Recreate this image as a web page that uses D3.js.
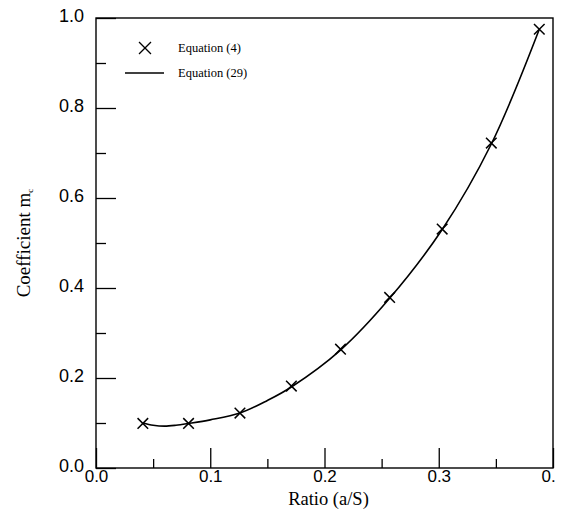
<!DOCTYPE html>
<html>
<head>
<meta charset="utf-8">
<script src="https://cdn.jsdelivr.net/npm/d3@7"></script>
<style>
  html, body { margin: 0; padding: 0; background: #fff; }
  svg { display: block; }
</style>
</head>
<body>
<svg id="chart"></svg>
<script>
// Equation (4) points
const ratioPts = [0.041, 0.081, 0.126, 0.171, 0.214, 0.257, 0.303, 0.346, 0.388];
const eq4Vals  = [0.099, 0.099, 0.122, 0.182, 0.264, 0.379, 0.531, 0.722, 0.975];

// Equation (29) curve
const ratioCurve = [0.041, 0.05, 0.06, 0.07, 0.081, 0.10, 0.126, 0.15, 0.171, 0.214, 0.257, 0.303, 0.346, 0.388];
const eq29Vals   = [0.100, 0.095, 0.093, 0.095, 0.099, 0.107, 0.122, 0.150, 0.180, 0.262, 0.377, 0.530, 0.720, 0.975];

const xMajor = [0, 0.1, 0.2, 0.3, 0.4];
const xMinor = [0.05, 0.15, 0.25, 0.35];
const xLabels = ['0.0', '0.1', '0.2', '0.3', '0.'];
const yMajor = [0, 0.2, 0.4, 0.6, 0.8, 1.0];
const yMinor = [0.1, 0.3, 0.5, 0.7, 0.9];
const yLabels = ['0.0', '0.2', '0.4', '0.6', '0.8', '1.0'];

const legendItems = ['Equation (4)', 'Equation (29)'];

const W = 567, H = 520;
const m = { top: 18, right: 14, bottom: 52, left: 96 };
const cW = W - m.left - m.right;
const cH = H - m.top - m.bottom;

const svg = d3.select('#chart').attr('width', W).attr('height', H);
svg.append('rect').attr('width', W).attr('height', H).attr('fill', '#fff');

const g = svg.append('g').attr('transform', `translate(${m.left},${m.top})`);

const x = d3.scaleLinear().domain([0, 0.4]).range([0, cW]);
const y = d3.scaleLinear().domain([0, 1.0]).range([cH, 0]);

// axes (ticks point inward)
const xAx = g.append('g').attr('transform', `translate(0,${cH})`)
  .call(d3.axisBottom(x).tickValues(xMajor).tickSize(-20).tickPadding(2)
    .tickFormat((d, i) => xLabels[i]));
g.append('g').attr('transform', `translate(0,${cH})`)
  .call(d3.axisBottom(x).tickValues(xMinor).tickSize(-9).tickFormat(''));
const yAx = g.append('g')
  .call(d3.axisLeft(y).tickValues(yMajor).tickSize(-20).tickPadding(12)
    .tickFormat((d, i) => yLabels[i]));
g.append('g')
  .call(d3.axisLeft(y).tickValues(yMinor).tickSize(-10).tickFormat(''));

g.selectAll('.domain').remove();
g.selectAll('.tick line').attr('stroke', '#000').attr('stroke-width', 1.3);
g.selectAll('.tick text')
  .attr('fill', '#000')
  .style('font-family', '"Liberation Sans", Arial, sans-serif')
  .style('font-size', '18px');
xAx.selectAll('.tick text').style('font-size', '17px').attr('dy', '0.71em');
yAx.selectAll('.tick text').attr('dy', '0.2em');
// last x label is cut in the source
xAx.selectAll('.tick text').filter((d, i) => i === xLabels.length - 1)
  .attr('text-anchor', 'start').attr('x', -12);

// frame
g.append('rect').attr('width', cW).attr('height', cH)
  .attr('fill', 'none').attr('stroke', '#000').attr('stroke-width', 1.4);

// axis titles
g.append('text')
  .attr('x', cW / 2 + 4).attr('y', cH + 37)
  .attr('text-anchor', 'middle')
  .attr('fill', '#000')
  .style('font-family', '"Liberation Serif", "Times New Roman", serif')
  .style('font-size', '18.5px')
  .text('Ratio (a/S)');

const yt = svg.append('text')
  .attr('transform', `translate(30,${m.top + cH / 2}) rotate(-90)`)
  .attr('text-anchor', 'middle')
  .attr('fill', '#000')
  .style('font-family', '"Liberation Serif", "Times New Roman", serif')
  .style('font-size', '19px');
yt.append('tspan').text('Coefficient m');
yt.append('tspan').attr('dy', 3).style('font-size', '9px').text('c');

// Equation (29) line
const curveData = ratioCurve.map((r, i) => ({ r, v: eq29Vals[i] }));
const line = d3.line().x(d => x(d.r)).y(d => y(d.v)).curve(d3.curveCatmullRom);
g.append('path').datum(curveData)
  .attr('fill', 'none').attr('stroke', '#000').attr('stroke-width', 1.6)
  .attr('d', line);

// Equation (4) crosses
const cross = d3.symbol().type(d3.symbolX).size(75);
g.selectAll('.pt').data(ratioPts.map((r, i) => ({ r, v: eq4Vals[i] })))
  .enter().append('path')
  .attr('transform', d => `translate(${x(d.r)},${y(d.v)})`)
  .attr('d', cross)
  .attr('fill', 'none').attr('stroke', '#000').attr('stroke-width', 1.5);

// legend
const lg = svg.append('g');
lg.append('path').attr('transform', 'translate(145,48)')
  .attr('d', d3.symbol().type(d3.symbolX).size(95))
  .attr('fill', 'none').attr('stroke', '#000').attr('stroke-width', 1.3);
lg.append('line').attr('x1', 125).attr('x2', 164).attr('y1', 73).attr('y2', 73)
  .attr('stroke', '#000').attr('stroke-width', 1.3);
legendItems.forEach((t, i) => {
  lg.append('text')
    .attr('x', 178).attr('y', 48 + i * 25).attr('dy', '0.35em')
    .attr('fill', '#000')
    .style('font-family', '"Liberation Serif", "Times New Roman", serif')
    .style('font-size', '12.5px')
    .text(t);
});
</script>
</body>
</html>
